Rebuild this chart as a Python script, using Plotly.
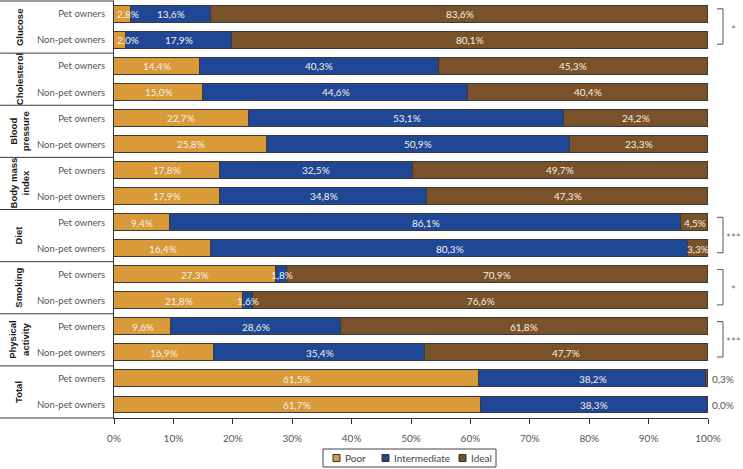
import plotly.graph_objects as go

# ---------------- data ----------------
groups = ["Glucose", "Cholesterol", "Blood<br>pressure", "Body mass<br>index", "Diet",
          "Smoking", "Physical<br>activity", "Total"]
subgroups = ["Pet owners", "Non-pet owners"]
series_names = ["Poor", "Intermediate", "Ideal"]

poor_pet = [2.8, 14.4, 22.7, 17.8, 9.4, 27.3, 9.6, 61.5]
poor_non = [2.0, 15.0, 25.8, 17.9, 16.4, 21.8, 16.9, 61.7]
inter_pet = [13.6, 40.3, 53.1, 32.5, 86.1, 1.8, 28.6, 38.2]
inter_non = [17.9, 44.6, 50.9, 34.8, 80.3, 1.6, 35.4, 38.3]
ideal_pet = [83.6, 45.3, 24.2, 49.7, 4.5, 70.9, 61.8, 0.3]
ideal_non = [80.1, 40.4, 23.3, 47.3, 3.3, 76.6, 47.7, 0.0]

significance = ["*", "", "", "", "***", "*", "***", ""]
x_ticks = [0, 10, 20, 30, 40, 50, 60, 70, 80, 90, 100]

# ---------------- styling ----------------
colors = ["#D99A3A", "#1F4796", "#7A5229"]
outline = "#3a3a3a"
W, H = 743, 469
ML, MR, MT, MB = 114, 35, 1, 51
PW = W - ML - MR
PH = H - MT - MB
FONT = "Lato"


def px_to_paper_x(px):
    return (px - ML) / PW


def px_to_paper_y(py):
    return (H - MB - py) / PH


def fmt(v):
    return f"{v:.1f}".replace(".", ",") + "%"


# interleave rows: pet, non-pet per group
rows_y, rows_label = [], []
series_vals = [[], [], []]
pairs = [(poor_pet, poor_non), (inter_pet, inter_non), (ideal_pet, ideal_non)]
for g in range(len(groups)):
    for s, sub in enumerate(subgroups):
        rows_y.append(2 * g + s)
        rows_label.append(sub)
        for k in range(3):
            series_vals[k].append(pairs[k][s][g])

nrows = len(rows_y)

fig = go.Figure()
for k, name in enumerate(series_names):
    fig.add_trace(go.Bar(
        x=series_vals[k], y=rows_y, orientation="h", name=name,
        marker=dict(color=colors[k], line=dict(color=outline, width=1)),
        width=0.65, showlegend=False, hoverinfo="skip",
    ))

annotations = []
# value labels
for i, y in enumerate(rows_y):
    cum = 0.0
    for k in range(3):
        v = series_vals[k][i]
        if v < 1.0:
            annotations.append(dict(x=cum + v, y=y, xref="x", yref="y", text=fmt(v),
                                    showarrow=False, xanchor="left", xshift=2,
                                    font=dict(family=FONT, size=10, color="#555")))
        elif k == 0 and v < 4:
            annotations.append(dict(x=cum, y=y, xref="x", yref="y", text=fmt(v),
                                    showarrow=False, xanchor="left", xshift=1,
                                    font=dict(family=FONT, size=10, color="#f6f0e6")))
        else:
            annotations.append(dict(x=cum + v / 2, y=y, xref="x", yref="y", text=fmt(v),
                                    showarrow=False, xanchor="center",
                                    font=dict(family=FONT, size=10, color="#f6f0e6")))
        cum += v

# group labels (rotated) and separators
shapes = []
ngroups = len(groups)
for g, name in enumerate(groups):
    annotations.append(dict(x=px_to_paper_x(19), y=2 * g + 0.5, xref="paper", yref="y",
                            text=f"<b>{name}</b>", textangle=-90, showarrow=False,
                            xanchor="center", yanchor="middle",
                            font=dict(family="Liberation Sans, Arial", size=9.5, color="#1a1a1a")))
for b in range(ngroups + 1):
    yp = 1 - b / ngroups
    shapes.append(dict(type="line", xref="paper", yref="paper",
                       x0=px_to_paper_x(0), x1=0, y0=yp, y1=yp,
                       line=dict(color=outline, width=1)))

# significance brackets
xl, xv = px_to_paper_x(717), px_to_paper_x(723)
for g, sig in enumerate(significance):
    if not sig:
        continue
    y0, y1 = 2 * g - 0.2, 2 * g + 1 + 0.16
    shapes.append(dict(type="path", xref="paper", yref="y",
                       path=f"M {xl},{y0} L {xv},{y0} L {xv},{y1} L {xl},{y1}",
                       line=dict(color="#555", width=1)))
    annotations.append(dict(x=px_to_paper_x(733), y=2 * g + 0.5, xref="paper", yref="y",
                            text=sig, showarrow=False, xanchor="center", yanchor="middle",
                            yshift=-2,
                            font=dict(family=FONT, size=11.5, color="#777")))

# manual legend
leg_top, leg_bot = 449, 467
shapes.append(dict(type="rect", xref="paper", yref="paper",
                   x0=px_to_paper_x(323), x1=px_to_paper_x(496),
                   y0=px_to_paper_y(leg_bot), y1=px_to_paper_y(leg_top),
                   line=dict(color="#444", width=1), fillcolor="white"))
leg_square_px = [333, 382, 459]
ymid = (leg_top + leg_bot) / 2
for k, name in enumerate(series_names):
    sx = leg_square_px[k]
    shapes.append(dict(type="rect", xref="paper", yref="paper",
                       x0=px_to_paper_x(sx), x1=px_to_paper_x(sx + 7),
                       y0=px_to_paper_y(ymid + 3.5), y1=px_to_paper_y(ymid - 3.5),
                       line=dict(color="#333", width=1), fillcolor=colors[k]))
    annotations.append(dict(x=px_to_paper_x(sx + 10), y=px_to_paper_y(ymid), xref="paper", yref="paper",
                            text=name, showarrow=False, xanchor="left", yanchor="middle",
                            font=dict(family=FONT, size=10, color="#444")))

fig.update_layout(
    barmode="stack",
    width=W, height=H,
    margin=dict(l=ML, r=MR, t=MT, b=MB),
    plot_bgcolor="white", paper_bgcolor="white",
    bargap=0,
    annotations=annotations,
    shapes=shapes,
    showlegend=False,
)
fig.update_xaxes(range=[0, 100], tickvals=x_ticks, ticktext=[f"{t}%" for t in x_ticks],
                 ticks="outside", ticklen=5, tickcolor="#333", showline=True, linecolor="#333",
                 showgrid=False, zeroline=False, tickfont=dict(family=FONT, size=10, color="#555"),
                 ticklabelstandoff=6)
fig.update_yaxes(range=[nrows - 0.5, -0.5], tickvals=rows_y, ticktext=rows_label,
                 ticks="", showline=True, linecolor="#333", showgrid=False, zeroline=False,
                 tickfont=dict(family=FONT, size=9.5, color="#555"), ticklabelstandoff=6)

fig.write_html("out.html", config={"displayModeBar": False},
               post_script="document.body.style.margin='0';document.body.style.overflow='hidden';")
